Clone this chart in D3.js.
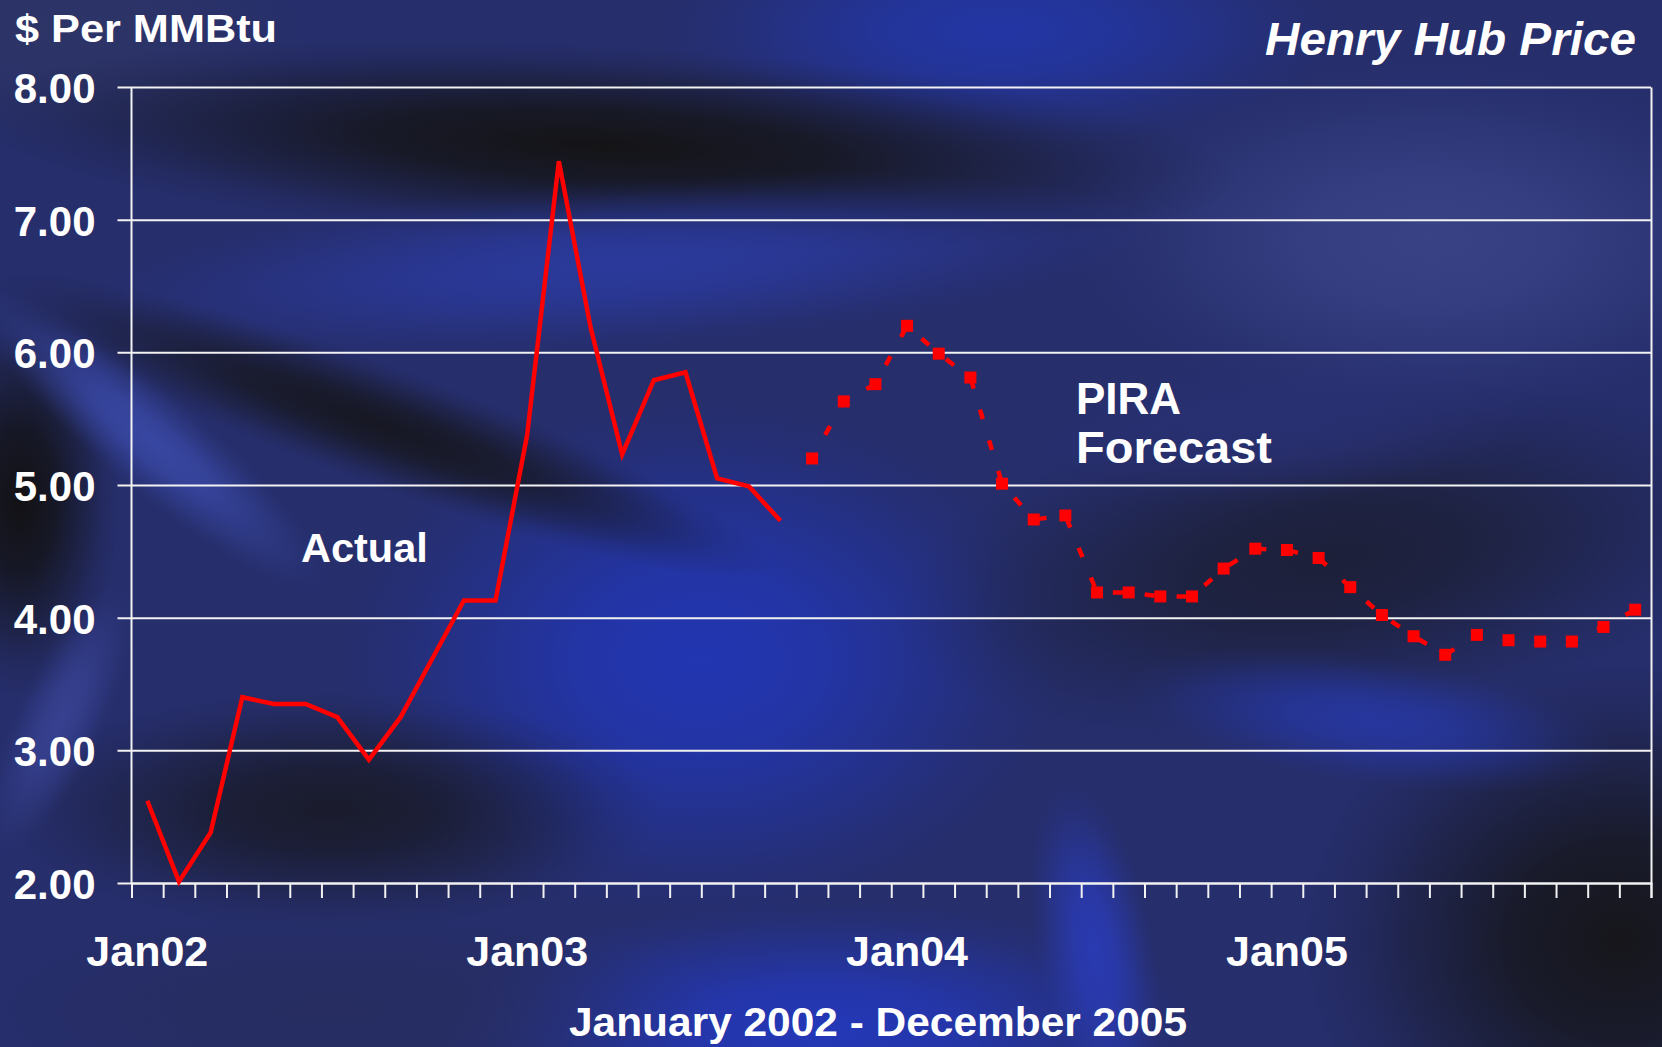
<!DOCTYPE html>
<html>
<head>
<meta charset="utf-8">
<title>Henry Hub Price</title>
<script src="https://cdn.jsdelivr.net/npm/d3@7"></script>
<style>
  html, body { margin: 0; padding: 0; background: #232a66; overflow: hidden; }
  svg { display: block; }
  text { font-family: "Liberation Sans", Arial, Helvetica, sans-serif; font-weight: bold; fill: #ffffff; }
</style>
</head>
<body>
<svg id="chart" width="1662" height="1047"></svg>
<script>
// Monthly categories, January 2002 - December 2005
const months = [
  "Jan02","Feb02","Mar02","Apr02","May02","Jun02","Jul02","Aug02","Sep02","Oct02","Nov02","Dec02",
  "Jan03","Feb03","Mar03","Apr03","May03","Jun03","Jul03","Aug03","Sep03","Oct03","Nov03","Dec03",
  "Jan04","Feb04","Mar04","Apr04","May04","Jun04","Jul04","Aug04","Sep04","Oct04","Nov04","Dec04",
  "Jan05","Feb05","Mar05","Apr05","May05","Jun05","Jul05","Aug05","Sep05","Oct05","Nov05","Dec05"
];

// Henry Hub spot, $/MMBtu (Jan02 - Sep03)
const actualMonths = months.slice(0, 21);
const actualPrice = [2.62, 2.01, 2.38, 3.40, 3.35, 3.35, 3.25, 2.93, 3.25, 3.69, 4.13, 4.13,
                     5.38, 7.44, 6.19, 5.23, 5.79, 5.85, 5.05, 4.99, 4.73];

// PIRA forecast, $/MMBtu (Oct03 - Dec05)
const forecastMonths = months.slice(21);
const forecastPrice = [5.20, 5.63, 5.76, 6.20, 5.99, 5.81, 5.01, 4.74, 4.77, 4.19, 4.19, 4.16,
                       4.16, 4.37, 4.52, 4.51, 4.45, 4.23, 4.02, 3.86, 3.72, 3.87, 3.83, 3.82,
                       3.82, 3.93, 4.06];

const yTicks = [2, 3, 4, 5, 6, 7, 8];
const xTickLabels = ["Jan02", "Jan03", "Jan04", "Jan05"];

const W = 1662, H = 1047;
const plot = { left: 131.5, right: 1651, top: 87, bottom: 883 };

const svg = d3.select("#chart");
const defs = svg.append("defs");

// ---- satin backdrop: soft radial-gradient folds of blue and black ----
const bg = svg.append("g").attr("class", "backdrop");
bg.append("rect").attr("width", W).attr("height", H).attr("fill", "#262e6c");

const folds = [
  // [cx, cy, rx, ry, rotation, colour, strength]
  [60,   30,   280, 120, 0,   "#2d3466", 1.0],
  [1000, 30,   340, 120, 0,   "#2236aa", 0.9],
  [1430, 240,  360, 180, 0,   "#3a4488", 0.9],
  [700,  660,  360, 260, 0,   "#2236b6", 0.95],
  [820,  1030, 380, 130, 0,   "#2438bc", 0.95],
  [1330, 560,  440, 170, -8,  "#1c1f36", 0.95],
  [1620, 940,  320, 280, 0,   "#16161b", 1.0],
  [330,  810,  330, 120, 0,   "#191a28", 0.95],
  [330,  1010, 380, 110, 0,   "#272d5e", 0.8],
  [600,  145,  640, 100, 3,   "#141416", 1.0],
  [620,  265,  540, 85,  -4,  "#2c3ca8", 0.8],
  [380,  425,  420, 60,  20,  "#15151a", 0.9],
  [20,   500,  100, 200, 0,   "#121214", 1.0],
  [150,  440,  230, 50,  40,  "#3b4bab", 0.85],
  [60,   720,  150, 45,  -65, "#3a4598", 0.8],
  [1095, 950,  170, 60,  80,  "#2a3cba", 0.9],
  [1370, 720,  250, 65,  8,   "#2638aa", 0.8],
  [1290, 430,  270, 75,  -5,  "#2a3278", 0.7]
];

folds.forEach((f, i) => {
  const [fx, fy, rx, ry, rot, col, a] = f;
  const g = defs.append("radialGradient").attr("id", "fold" + i);
  [[0, 1], [0.35, 0.8], [0.65, 0.4], [0.85, 0.12], [1, 0]].forEach(([o, k]) => {
    g.append("stop").attr("offset", o).attr("stop-color", col).attr("stop-opacity", a * k);
  });
  bg.append("ellipse")
    .attr("cx", fx).attr("cy", fy).attr("rx", rx).attr("ry", ry)
    .attr("transform", `rotate(${rot},${fx},${fy})`)
    .attr("fill", `url(#fold${i})`);
});

// ---- scales ----
const x = d3.scaleBand().domain(months).range([plot.left, plot.right]).paddingInner(0).paddingOuter(0);
const xEdge = d3.scaleLinear().domain([0, months.length]).range([plot.left, plot.right]);
const y = d3.scaleLinear().domain([2, 8]).range([plot.bottom, plot.top]);
const cx = m => x(m) + x.bandwidth() / 2;

// ---- gridlines + y labels (axis anchored on the right frame edge) ----
const yAxis = d3.axisLeft(y)
  .tickValues(yTicks)
  .tickSizeInner(plot.right - plot.left + 14)
  .tickSizeOuter(0)
  .tickPadding(22)
  .tickFormat(d3.format(".2f"));

const gy = svg.append("g")
  .attr("transform", `translate(${plot.right},0)`)
  .call(yAxis);
gy.select(".domain").attr("stroke", "#f2f2f2").attr("stroke-width", 2);
gy.selectAll(".tick line").attr("stroke", "#f2f2f2").attr("stroke-width", 2);
gy.selectAll(".tick text")
  .attr("font-size", 42)
  .attr("font-family", "'Liberation Sans', Arial, sans-serif")
  .attr("font-weight", "bold")
  .attr("fill", "#ffffff")
  .attr("dy", "0.37em");

// left axis line
svg.append("line")
  .attr("x1", plot.left).attr("x2", plot.left)
  .attr("y1", plot.top).attr("y2", plot.bottom)
  .attr("stroke", "#f2f2f2").attr("stroke-width", 2);

// ---- x axis: month boundary ticks ----
const xAxis = d3.axisBottom(xEdge)
  .tickValues(d3.range(months.length + 1))
  .tickSize(15)
  .tickFormat("");
const gx = svg.append("g")
  .attr("transform", `translate(0,${plot.bottom})`)
  .call(xAxis);
gx.select(".domain").attr("stroke", "#f2f2f2").attr("stroke-width", 2);
gx.selectAll(".tick line").attr("stroke", "#f2f2f2").attr("stroke-width", 2);

svg.append("g").selectAll("text")
  .data(xTickLabels)
  .join("text")
  .attr("x", d => cx(d))
  .attr("y", 966)
  .attr("text-anchor", "middle")
  .attr("font-size", 43)
  .text(d => d);

// ---- series ----
const line = d3.line().x(d => cx(d.m)).y(d => y(d.v));

const actual = actualMonths.map((m, i) => ({ m, v: actualPrice[i] }));
const forecast = forecastMonths.map((m, i) => ({ m, v: forecastPrice[i] }));

svg.append("path")
  .datum(actual)
  .attr("d", line)
  .attr("fill", "none")
  .attr("stroke", "#ff0000")
  .attr("stroke-width", 4.5)
  .attr("stroke-linejoin", "miter");

svg.append("path")
  .datum(forecast)
  .attr("d", line)
  .attr("fill", "none")
  .attr("stroke", "#ff0000")
  .attr("stroke-width", 4.5)
  .attr("stroke-dasharray", "10,22")
  .attr("stroke-dashoffset", 5);

const mk = 12;
svg.append("g").selectAll("rect")
  .data(forecast)
  .join("rect")
  .attr("x", d => cx(d.m) - mk / 2)
  .attr("y", d => y(d.v) - mk / 2)
  .attr("width", mk)
  .attr("height", mk)
  .attr("fill", "#ff0000");

// ---- titles and annotations ----
svg.append("text")
  .attr("x", 15).attr("y", 42)
  .attr("font-size", 39)
  .attr("textLength", 262).attr("lengthAdjust", "spacingAndGlyphs")
  .text("$ Per MMBtu");

svg.append("text")
  .attr("x", 1265).attr("y", 55)
  .attr("font-size", 46)
  .attr("font-style", "italic")
  .attr("textLength", 371).attr("lengthAdjust", "spacingAndGlyphs")
  .text("Henry Hub Price");

svg.append("text")
  .attr("x", 301).attr("y", 562)
  .attr("font-size", 41.5)
  .text("Actual");

const pira = svg.append("text").attr("font-size", 44);
pira.append("tspan").attr("x", 1076).attr("y", 414).text("PIRA");
pira.append("tspan").attr("x", 1076).attr("y", 463)
  .attr("textLength", 196).attr("lengthAdjust", "spacingAndGlyphs")
  .text("Forecast");

svg.append("text")
  .attr("x", 569).attr("y", 1036)
  .attr("font-size", 40.5)
  .attr("textLength", 618).attr("lengthAdjust", "spacingAndGlyphs")
  .text("January 2002 - December 2005");
</script>
</body>
</html>
